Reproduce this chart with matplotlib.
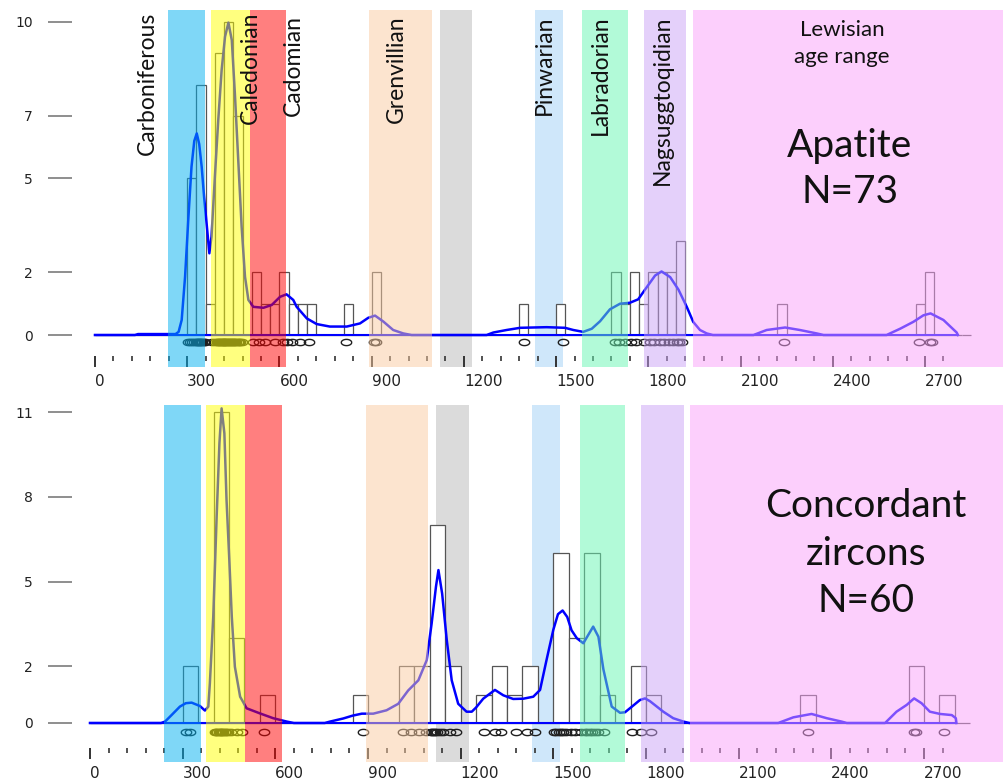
import numpy as np
import matplotlib
matplotlib.use("Agg")
import matplotlib.pyplot as plt
from matplotlib.path import Path

# ---------------- data ----------------
# orogenic / age bands (Ma)
band_lo = [238, 376, 503, 892, 1121, 1431, 1585, 1785, 1944]
band_hi = [358, 503, 621, 1095, 1228, 1522, 1733, 1924, 3000]
band_names = ["Carboniferous", "Caledonian", "Cadomian", "Grenvillian",
              "Pinwarian", "Labradorian", "Nagsuggtoqidian"]

# apatite U-Pb ages (Ma), N=73
apatite_ages = [302, 308, 315, 321, 327,
                331, 334, 338, 341, 345, 349, 353, 357,
                382,
                392, 396, 400, 404, 407, 410, 413, 416, 419,
                421, 424, 427, 430, 433, 436, 439, 442, 445, 448,
                452, 456, 460, 464, 468, 472, 477,
                515, 532, 553, 584, 612, 624, 641, 668, 697,
                815, 908, 914,
                1396, 1521,
                1690, 1703, 1725, 1745, 1760, 1785, 1805, 1820,
                1838, 1852, 1866, 1880, 1893, 1900, 1908,
                2240, 2680, 2715, 2722]

apatite_kde_age = [0, 130, 140, 262, 272, 282, 293, 304, 314, 323, 331, 339,
                   347, 355, 363, 372, 379, 390, 401, 412, 423, 434, 445, 455,
                   466, 477, 488, 499, 515, 548, 575, 602, 623, 645, 656, 689,
                   721, 764, 819, 862, 889, 911, 938, 970, 1003, 1030, 1274,
                   1296, 1339, 1383, 1469, 1529, 1556, 1588, 1616, 1643, 1675,
                   1708, 1740, 1767, 1795, 1822, 1843, 1871, 1898, 1925, 1946,
                   1968, 1990, 2010, 2142, 2185, 2245, 2293, 2348, 2370, 2575,
                   2619, 2662, 2695, 2718, 2760, 2803, 2807]
apatite_kde_val = [0, 0, 0.03, 0.03, 0.1, 0.48, 1.86, 3.78, 5.38, 6.2, 6.44, 6.1,
                   5.38, 4.4, 3.57, 2.61, 3.14, 5.06, 6.87, 8.47, 9.53, 9.98, 9.42, 7.72,
                   5.59, 3.46, 1.86, 1.12, 0.9, 0.87, 0.96, 1.22, 1.3, 1.12, 0.9, 0.53,
                   0.35, 0.27, 0.27, 0.37, 0.55, 0.62, 0.43, 0.16, 0.05, 0, 0,
                   0.08, 0.16, 0.23, 0.25, 0.23, 0.16, 0.1, 0.2, 0.44, 0.82,
                   1.0, 1.03, 1.14, 1.53, 1.9, 2.03, 1.85, 1.45, 0.9, 0.42,
                   0.16, 0.05, 0, 0, 0.16, 0.24, 0.16, 0.05, 0, 0,
                   0.2, 0.42, 0.63, 0.69, 0.48, 0.08, 0]

# concordant zircon U-Pb ages (Ma), N=60
zircon_ages = [312, 325,
               404, 408, 412, 416, 420, 424, 428, 432, 436, 441, 446,
               458, 475, 492, 563,
               885,
               1012, 1040, 1065, 1088,
               1103, 1108, 1113, 1118, 1124, 1132, 1142, 1165, 1185,
               1275, 1310, 1330, 1380, 1415, 1440,
               1503, 1510, 1517, 1524, 1531, 1540, 1558, 1570, 1590,
               1603, 1610, 1618, 1626, 1634, 1643, 1665,
               1755, 1785, 1815,
               2325, 2668, 2675, 2765]

zircon_kde_age = [0, 230, 243, 264, 291, 310, 329, 356, 372, 383, 388, 399,
                  410, 419, 426, 435, 442, 451, 459, 469, 486, 507, 550, 593,
                  637, 660, 760, 777, 820, 850, 880, 917, 960, 998, 1030, 1063,
                  1090, 1106, 1120, 1128, 1140, 1155, 1171, 1192, 1219, 1236,
                  1250, 1273, 1311, 1338, 1370, 1403, 1435, 1457, 1478, 1500,
                  1515, 1530, 1545, 1559, 1576, 1597, 1629, 1646, 1662, 1689,
                  1716, 1732, 1759, 1780, 1797, 1813, 1856, 1888, 1921, 1940,
                  2228, 2277, 2336, 2385, 2433, 2450, 2574, 2611, 2644, 2668,
                  2692, 2719, 2752, 2790, 2803, 2805]
zircon_kde_val = [0, 0, 0.05, 0.28, 0.58, 0.7, 0.72, 0.6, 0.44, 0.58, 1.4, 3.76,
                  7.3, 9.9, 11.13, 10.25, 7.89, 5.77, 3.76, 1.99, 0.93, 0.52, 0.34, 0.17,
                  0.05, 0, 0, 0.05, 0.16, 0.26, 0.33, 0.33, 0.45, 0.68, 1.15, 1.51,
                  2.22, 3.52, 4.82, 5.41, 4.58, 2.93, 1.51, 0.68, 0.4, 0.4,
                  0.55, 0.86, 1.17, 0.98, 0.85, 0.86, 0.93, 1.17, 2.23, 3.3,
                  3.85, 3.98, 3.75, 3.28, 3.0, 2.82, 3.41, 3.05, 1.9, 0.58,
                  0.36, 0.38, 0.62, 0.81, 0.87, 0.77, 0.4, 0.17, 0.05, 0,
                  0, 0.2, 0.32, 0.17, 0.05, 0, 0, 0.4, 0.64, 0.87,
                  0.7, 0.4, 0.32, 0.28, 0.17, 0]

x_major = [0, 300, 600, 900, 1200, 1500, 1800, 2100, 2400, 2700]
apatite_yticks = [0, 2, 5, 7, 10]
zircon_yticks = [0, 2, 5, 8, 11]

# ---------------- style ----------------
band_colors = ["#00b0f0", "#ffff00", "#ff0000", "#fbcba1", "#b9b9b9",
               "#a1d1f7", "#67f7b3", "#cba2f7", "#fba1fb"]
band_behind = [False, False, False, False, True, True, False, False, False]
label_x = [172, 507, 644, 979, 1461, 1643, 1845]
label_top = [10.32, 10.32, 10.22, 10.22, 10.22, 10.22, 10.22]
TXT = "Lato"

# open ellipse used for the rug of single ages
t = np.linspace(0, 2 * np.pi, 40)
ellipse = Path(np.column_stack([np.cos(t), 0.6 * np.sin(t)]))


def draw_panel(ax, ages, bin_width, kde_age, kde_val, yticks, xlim, ylim,
               rug_y, axis_y):
    for lo, hi, c, back in zip(band_lo, band_hi, band_colors, band_behind):
        ax.axvspan(lo, hi, color=c, alpha=0.5, lw=0, zorder=1 if back else 4)

    ax.hist(ages, bins=np.arange(0, 2851, bin_width), facecolor="white",
            edgecolor="#555555", linewidth=0.9, zorder=2)
    ax.plot([kde_age[0], kde_age[-1]], [0, 0], color="#0000ff", lw=1.5, zorder=3)
    ax.plot(kde_age, kde_val, color="#0000ff", lw=1.8, zorder=3)
    ax.plot(ages, np.full(len(ages), rug_y), ls="none", marker=ellipse, ms=7.5,
            mfc="none", mec="#202020", mew=1.0, zorder=3)

    ax.set_xlim(xlim)
    ax.set_ylim(ylim)
    for s in ax.spines.values():
        s.set_visible(False)
    ax.spines["bottom"].set_position(("data", axis_y))

    ax.set_xticks(x_major)
    ax.set_xticklabels([str(v) for v in x_major])
    ax.set_xticks(np.arange(0, 2761, 60), minor=True)
    for lab in ax.get_xticklabels():
        lab.set_horizontalalignment("left")
    ax.tick_params(axis="x", which="major", direction="out", length=8,
                   width=1.4, color="#333333", pad=5, labelsize=11,
                   labelcolor="#222222")
    ax.tick_params(axis="x", which="minor", direction="out", length=3.6,
                   width=1.2, color="#333333")

    ax.set_yticks(yticks)
    ax.tick_params(axis="y", direction="out", length=17.3, width=1.1,
                   color="#707070", pad=10.8, labelsize=10,
                   labelcolor="#222222")
    ax.patch.set_alpha(0)


fig = plt.figure(figsize=(10.04, 7.80), dpi=100)
ax1 = fig.add_axes([72 / 1004, 1 - 367 / 780, 932 / 1004, 357 / 780])
ax2 = fig.add_axes([72 / 1004, 1 - 762 / 780, 932 / 1004, 357 / 780])

draw_panel(ax1, apatite_ages, 30, apatite_kde_age, apatite_kde_val,
           apatite_yticks, (-74.8, 2957), (-1.022, 10.383), -0.22, -0.67)
draw_panel(ax2, zircon_ages, 50, zircon_kde_age, zircon_kde_val,
           zircon_yticks, (-58.3, 2959), (-1.38, 11.25), -0.31, -0.88)

for name, x, y in zip(band_names, label_x, label_top):
    ax1.text(x, y, name, rotation=90, ha="center", va="top", fontsize=16.5,
             family=TXT, color="#111111", zorder=6)

ax1.text(2430, 10.06, "Lewisian\nage range", ha="center", va="top",
         fontsize=16, family=TXT, color="#111111", linespacing=1.45, zorder=6)
ax1.text(2456, 6.61, "Apatite\nN=73", ha="center", va="top", fontsize=28,
         family=TXT, color="#111111", linespacing=1.35, zorder=6)
ax2.text(2512, 8.31, "Concordant\nzircons\nN=60", ha="center", va="top",
         fontsize=28, family=TXT, color="#111111", linespacing=1.4, zorder=6)

fig.savefig("out.png", dpi=100)
